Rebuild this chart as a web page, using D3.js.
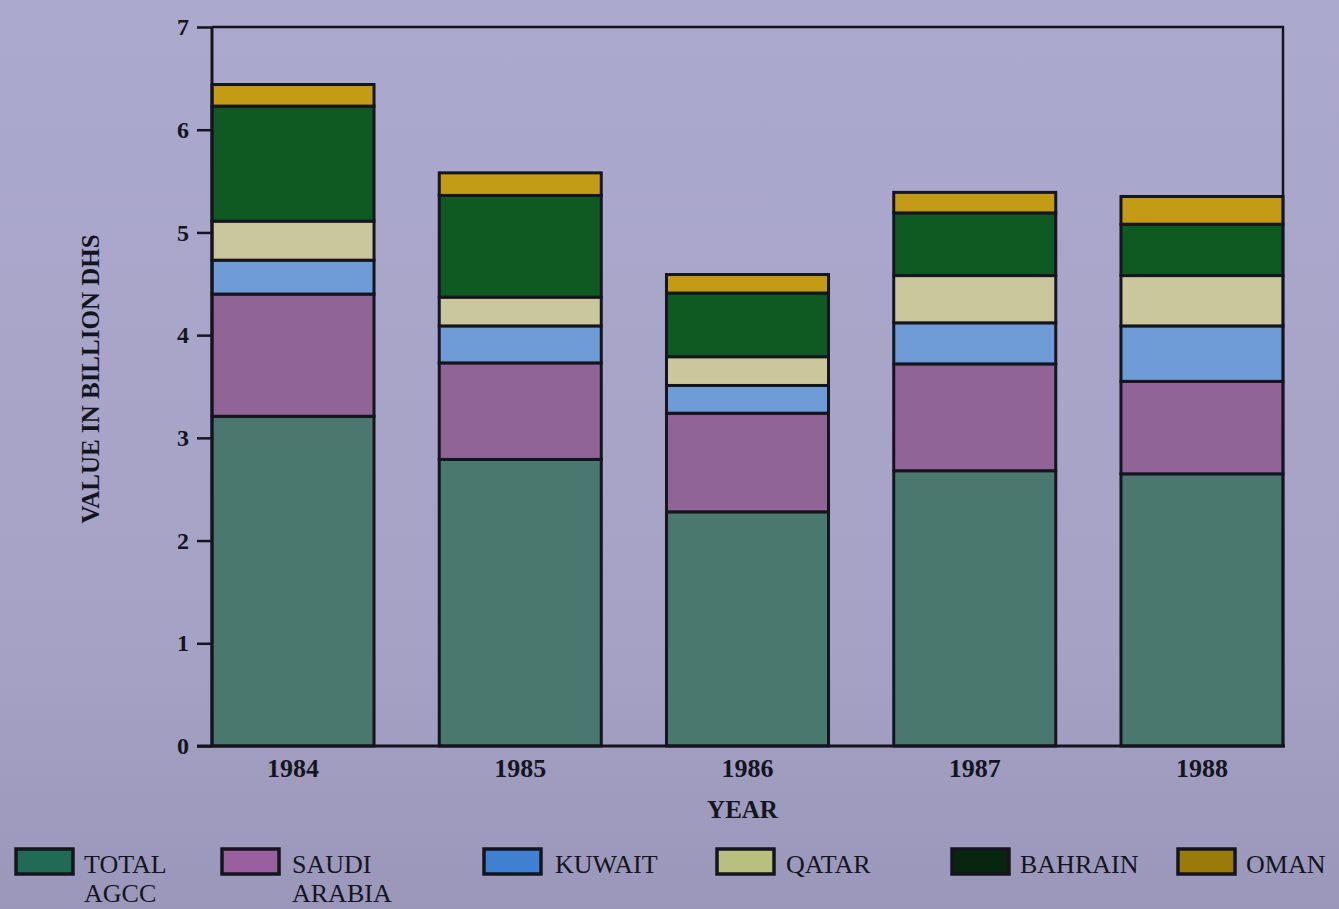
<!DOCTYPE html>
<html>
<head>
<meta charset="utf-8">
<script src="https://cdn.jsdelivr.net/npm/d3@7"></script>
<style>
  html, body { margin: 0; padding: 0; background: #a6a3c7; }
  svg { display: block; }
</style>
</head>
<body>
<svg id="chart" width="1339" height="909"></svg>
<script>
// ---- data (billion DHS) ----
const years = ["1984", "1985", "1986", "1987", "1988"];
const seriesNames = ["TOTAL AGCC", "SAUDI ARABIA", "KUWAIT", "QATAR", "BAHRAIN", "OMAN"];
const totalAgcc   = [3.21, 2.79, 2.28, 2.68, 2.65];
const saudiArabia = [1.19, 0.94, 0.96, 1.04, 0.90];
const kuwait      = [0.33, 0.36, 0.27, 0.40, 0.54];
const qatar       = [0.38, 0.28, 0.28, 0.46, 0.49];
const bahrain     = [1.12, 0.99, 0.62, 0.61, 0.50];
const oman        = [0.21, 0.22, 0.18, 0.20, 0.27];
const yTickValues = [0, 1, 2, 3, 4, 5, 6, 7];
const legendLines = [["TOTAL", "AGCC"], ["SAUDI", "ARABIA"], ["KUWAIT"], ["QATAR"], ["BAHRAIN"], ["OMAN"]];

(function () {
// ---- style ----
const barColors    = ["#4a786f", "#906497", "#6f9bd6", "#c9c79b", "#0f5a22", "#c39b14"];
const legendColors = ["#216b56", "#9a5f9e", "#3f80d2", "#b9c07f", "#08260f", "#9b7a0c"];
const ink = "#15151f";

const seriesValues = [totalAgcc, saudiArabia, kuwait, qatar, bahrain, oman];
const table = years.map((yr, i) => {
  const row = { year: yr };
  seriesNames.forEach((s, k) => { row[s] = seriesValues[k][i]; });
  return row;
});

const svg = d3.select("#chart");
const W = 1339, H = 909;

const defs = svg.append("defs");
const grad = defs.append("linearGradient").attr("id", "bg").attr("x1", 0).attr("y1", 0).attr("x2", 0).attr("y2", 1);
grad.append("stop").attr("offset", "0%").attr("stop-color", "#aca9ce");
grad.append("stop").attr("offset", "70%").attr("stop-color", "#a5a2c6");
grad.append("stop").attr("offset", "100%").attr("stop-color", "#9a97ba");
svg.append("rect").attr("width", W).attr("height", H).attr("fill", "url(#bg)");

const pL = 212, pR = 1283, pT = 27, pB = 746;

const x = d3.scaleBand().domain(years).range([pL, pR]).paddingInner(0.287).paddingOuter(0);
const y = d3.scaleLinear().domain([0, 7]).range([pB, pT]);

const layers = d3.stack().keys(seriesNames)(table);

const g = svg.append("g");
g.selectAll("g.layer")
  .data(layers)
  .join("g")
  .attr("class", "layer")
  .attr("fill", (d, i) => barColors[i])
  .selectAll("rect")
  .data(d => d)
  .join("rect")
  .attr("x", d => x(d.data.year))
  .attr("width", x.bandwidth())
  .attr("y", d => y(d[1]))
  .attr("height", d => y(d[0]) - y(d[1]))
  .attr("stroke", ink)
  .attr("stroke-width", 3);

svg.append("path")
  .attr("d", `M${pL},${pT}H${pR}V${pB}`)
  .attr("fill", "none").attr("stroke", ink).attr("stroke-width", 2.5);

const yAxis = svg.append("g")
  .attr("transform", `translate(${pL},0)`)
  .call(d3.axisLeft(y).tickValues(yTickValues).tickFormat(d3.format("d")).tickSize(15).tickPadding(8));
yAxis.select(".domain").attr("stroke", ink).attr("stroke-width", 3).attr("d", `M0,${pT}V${pB}`);
yAxis.selectAll(".tick line").attr("stroke", ink).attr("stroke-width", 2.5);
yAxis.selectAll(".tick text")
  .attr("fill", ink)
  .style("font-family", "'Liberation Serif', serif")
  .style("font-weight", "bold")
  .style("font-size", "24px");

const xAxis = svg.append("g")
  .attr("transform", `translate(0,${pB})`)
  .call(d3.axisBottom(x).tickSize(0).tickPadding(13));
xAxis.select(".domain").attr("stroke", ink).attr("stroke-width", 3).attr("d", `M${pL - 15},0H${pR + 2}`);
xAxis.selectAll(".tick text")
  .attr("fill", ink)
  .style("font-family", "'Liberation Serif', serif")
  .style("font-weight", "bold")
  .style("font-size", "26px");

svg.append("text")
  .attr("x", (pL + pR) / 2 - 5).attr("y", 818)
  .attr("text-anchor", "middle")
  .attr("fill", ink)
  .style("font-family", "'Liberation Serif', serif")
  .style("font-weight", "bold")
  .style("font-size", "25px")
  .text("YEAR");

svg.append("text")
  .attr("transform", "translate(99,379) rotate(-90)")
  .attr("text-anchor", "middle")
  .attr("fill", ink)
  .style("font-family", "'Liberation Serif', serif")
  .style("font-weight", "bold")
  .style("font-size", "25px")
  .text("VALUE IN BILLION DHS");

const legendX = [16, 222, 484, 717, 952, 1178];
const textDx = [68, 70, 71, 69, 68, 68];
const items = svg.append("g").selectAll("g.item")
  .data(seriesNames)
  .join("g")
  .attr("class", "item")
  .attr("transform", (d, i) => `translate(${legendX[i]},849)`);
items.append("rect")
  .attr("width", 57).attr("height", 25)
  .attr("fill", (d, i) => legendColors[i])
  .attr("stroke", ink).attr("stroke-width", 3.5);
items.each(function (d, i) {
  const t = d3.select(this).append("text")
    .attr("x", textDx[i]).attr("y", 24)
    .attr("fill", ink)
    .style("font-family", "'Liberation Serif', serif")
    .style("font-size", "26px");
  legendLines[i].forEach((line, j) => {
    t.append("tspan").attr("x", textDx[i]).attr("dy", j === 0 ? 0 : 29).text(line);
  });
});
})();
</script>
</body>
</html>
